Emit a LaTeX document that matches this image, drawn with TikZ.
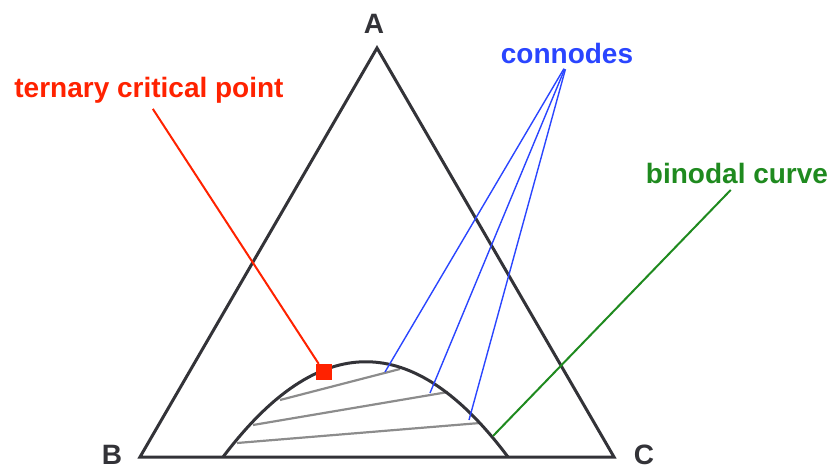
\documentclass[tikz,border=0pt]{standalone}
\usepackage{fontspec}
\setmainfont{Liberation Sans}
\usepackage{xcolor}
\usepackage{tikz}
\usetikzlibrary{positioning}
\definecolor{tpred}{HTML}{FF2200}
\definecolor{tpblue}{HTML}{2A45FF}
\definecolor{tpgreen}{HTML}{1F8A1F}
\definecolor{tpslate}{HTML}{333338}
\definecolor{tpgray}{HTML}{8C8C8C}

\begin{document}
\begin{tikzpicture}[x=1pt,y=-1pt,
  font=\fontsize{28}{30}\selectfont\bfseries,
  lbl/.style={inner sep=0pt,anchor=base},
  vtx/.style={lbl,text=tpslate},
  edge/.style={tpslate,line width=3pt,line join=miter},
  tie/.style={tpgray,line width=2.2pt},
  redln/.style={tpred,line width=2pt,shorten <=7pt},
  conn/.style={tpblue,line width=1.4pt,shorten <=6pt},
  binln/.style={tpgreen,line width=2pt,shorten <=9pt}]
  \useasboundingbox (0,0) rectangle (840,471);
  % triangle
  \coordinate (A) at (377,48); \coordinate (B) at (140,457); \coordinate (C) at (614,457);
  \node[vtx] (la) at (374,33) {A};
  \node[vtx] (lb) at (112,464) {B};
  \node[vtx] (lc) at (644,464) {C};
  % tie lines
  \coordinate (l1) at (280,400); \coordinate (r1) at (400,369);
  \coordinate (l2) at (253,425); \coordinate (r2) at (448,392);
  \coordinate (l3) at (237,443); \coordinate (r3) at (480,423);
  \foreach \i in {1,2,3} \draw[tie] (l\i) -- (r\i);
  % binodal curve
  \coordinate (bl) at (223,457); \coordinate (br) at (508,457);
  \draw[edge] (bl) .. controls (319,330) and (413,330) .. (br);
  \draw[edge] (A) -- (B) -- (C) -- cycle;
  % labels
  \node[lbl,text=tpred] (tcp) at (149,97) {ternary critical point};
  \node[lbl,text=tpblue] (cnd) at (567,63) {connodes};
  \node[lbl,text=tpgreen] (bnc) at (737,183) {binodal curve};
  \coordinate (cn1) at (385,372); \coordinate (cn2) at (430,393); \coordinate (cn3) at (469,420);
  \coordinate (gt) at (493,436);
  \foreach \i in {1,2,3} \draw[conn] (cnd.south) -- (cn\i);
  \draw[binln] (bnc.south) -- (gt);
  \node[fill=tpred,minimum size=16pt,inner sep=0pt] (tcpt) at (324,372) {};
  \draw[redln] (tcp.south) -- (tcpt);
\end{tikzpicture}
\end{document}
